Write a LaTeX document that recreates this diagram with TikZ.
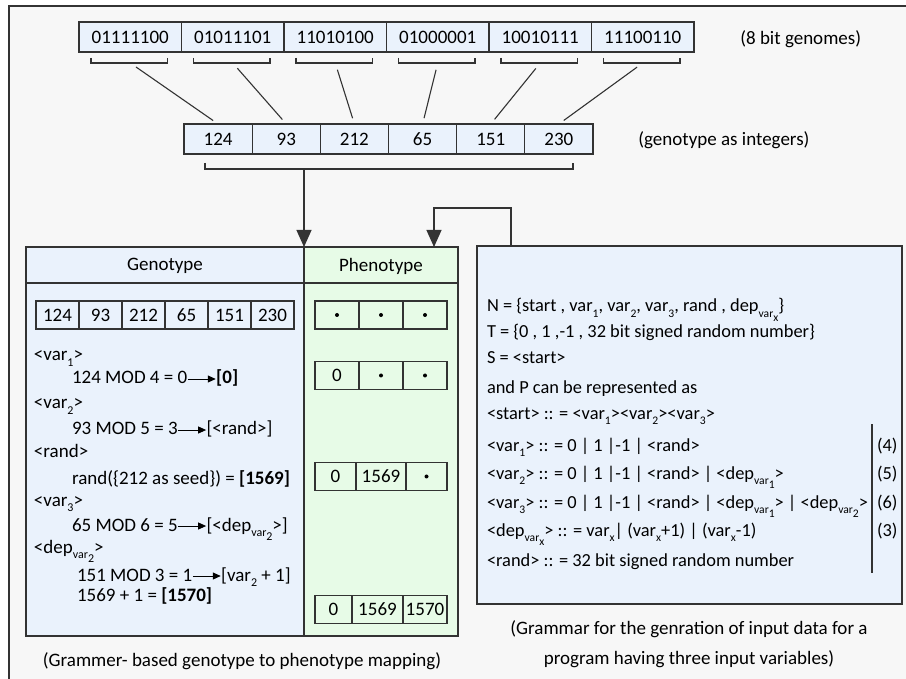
\documentclass[tikz,border=0pt]{standalone}
\usepackage{fontspec}
\usepackage{graphicx}
\setmainfont{Carlito}
\usetikzlibrary{positioning}
\usetikzlibrary{arrows.meta}

\definecolor{framegray}{HTML}{F7F7F7}
\definecolor{linegray}{HTML}{333333}
\definecolor{cellblue}{HTML}{EAF2FC}
\definecolor{phgreen}{HTML}{E7FBE7}

\newcommand{\lo}[1]{\raisebox{-0.6ex}{\scalebox{0.63}{#1}}}
\newcommand{\llo}[1]{\raisebox{-0.7ex}{#1}}
\newcommand{\maparrow}{\tikz[baseline=-0.55ex]\draw[line width=0.9pt,-{Triangle[length=8pt,width=7pt]}] (0pt,0pt) -- (28pt,0pt);}
\newcommand{\pdot}{\tikz\fill (0pt,0pt) circle (2pt);}

\begin{document}
\begin{tikzpicture}[x=1pt,y=-1pt,line width=1.1pt,draw=linegray,
    font=\fontsize{19}{23}\selectfont,
    every node/.style={outer sep=0pt},
    gcell/.style={draw=linegray, fill=cellblue, minimum width=102.5pt, minimum height=30pt, inner sep=0pt},
    icell/.style={draw=linegray, fill=cellblue, minimum width=68.2pt, minimum height=30pt, inner sep=0pt},
    scell/.style={draw=linegray, minimum width=43pt, minimum height=28pt, inner sep=0pt},
    panel/.style={draw=linegray, line width=1.4pt, inner sep=0pt},
    txt/.style={anchor=base west, inner sep=0pt},
    gtxt/.style={txt, font=\fontsize{18.4}{22}\selectfont},
    arr/.style={-{Triangle[length=17pt,width=15pt]}}]

            \useasboundingbox (0,0) rectangle (906,679);
            \clip (0,0) rectangle (906,679);
            \draw [fill=framegray, line width=2pt] (9,6) rectangle (930,700);

            %\draw [help lines] (0,0) grid[step=50] (906,679);

            % 8 bit genomes
            \path   (130.25,37) node (g1) [gcell] {01111100}
                    (232.75,37) node (g2) [gcell] {01011101}
                    (335.25,37) node (g3) [gcell] {11010100}
                    (437.75,37) node (g4) [gcell] {01000001}
                    (540.25,37) node (g5) [gcell] {10010111}
                    (642.75,37) node (g6) [gcell] {11100110};
            \node (glabel) [anchor=west] at (737,39) {(8 bit genomes)};

            % genotype as integers
            \path   (218.1,139) node (i1) [icell] {124}
                    (286.3,139) node (i2) [icell] {93}
                    (354.4,139) node (i3) [icell] {212}
                    (422.6,139) node (i4) [icell] {65}
                    (490.8,139) node (i5) [icell] {151}
                    (558.9,139) node (i6) [icell] {230};
            \node (ilabel) [anchor=west] at (635,140) {(genotype as integers)};

            \foreach \i in {1,...,6} {
                \draw ([xshift=12pt,yshift=-6pt]g\i.south west) -- ([xshift=12pt,yshift=-11pt]g\i.south west)
                    -- ([xshift=-14pt,yshift=-11pt]g\i.south east) -- ([xshift=-14pt,yshift=-6pt]g\i.south east);
                \draw [shorten <=7pt, shorten >=6pt] ([yshift=-11pt]g\i.south) -- (i\i.north);
            }
            \draw (205,163) |- (573,169) -- (573,163);
            \coordinate (ib) at (304,169);

            % panels
            \node (geno) [panel, fill=cellblue, minimum width=278pt, minimum height=389pt] at (165,441.5) {};
            \node (pheno) [panel, fill=phgreen, minimum width=154pt, minimum height=389pt] at (381,441.5) {};
            \node (gram) [panel, fill=cellblue, minimum width=425pt, minimum height=358pt] at (689.5,425) {};
            \draw ([yshift=-36pt]geno.north west) -- ([yshift=-36pt]pheno.north east);
            \node (genohead) at (165,266) {Genotype};
            \node (phenohead) at (381,266) {Phenotype};

            \draw [arr] (ib) -- (geno.north east);
            \draw [arr] ([xshift=34pt]gram.north west) |- ([xshift=-24pt,yshift=39pt]pheno.north east)
                -- ([xshift=-24pt]pheno.north east);

            % genotype row
            \path   (57.5,315) node (n1) [scell] {124}
                    (100.5,315) node (n2) [scell] {93}
                    (143.5,315) node (n3) [scell] {212}
                    (186.5,315) node (n4) [scell] {65}
                    (229.5,315) node (n5) [scell] {151}
                    (272.5,315) node (n6) [scell] {230};

            % mapping steps
            \node (s1) [txt] at (34,361) {<var\lo{1}>};
            \node (s2) [txt] at (72,384) {124 MOD 4 = 0\maparrow\textbf{[0]}};
            \node (s3) [txt] at (34,409) {<var\lo{2}>};
            \node (s4) [txt] at (72,435) {93 MOD 5 = 3\maparrow[<rand>]};
            \node (s5) [txt] at (34,457) {<rand>};
            \node (s6) [txt] at (72,484) {rand(\{212 as seed\}) = \textbf{[1569]}};
            \node (s7) [txt] at (34,506) {<var\lo{3}>};
            \node (s8) [txt] at (72,531) {65 MOD 6 = 5\maparrow[<dep\lo{var\llo{2}}>]};
            \node (s9) [txt] at (34,553) {<dep\lo{var\llo{2}}>};
            \node (s10) [txt] at (77,581) {151 MOD 3 = 1\maparrow[var\lo{2} + 1]};
            \node (s11) [txt] at (77,601) {1569 + 1 = \textbf{[1570]}};

            % phenotype rows
            \node (p11) [scell, minimum width=44pt] at (337,315) {\pdot};
            \node (p12) [scell, minimum width=44pt, right=0pt of p11] {\pdot};
            \node (p13) [scell, minimum width=44pt, right=0pt of p12] {\pdot};
            \node (p21) [scell, minimum width=44pt] at (337,375.5) {0};
            \node (p22) [scell, minimum width=44pt, right=0pt of p21] {\pdot};
            \node (p23) [scell, minimum width=44pt, right=0pt of p22] {\pdot};
            \node (p31) [scell, minimum width=41pt] at (335.5,476.5) {0};
            \node (p32) [scell, minimum width=50pt, right=0pt of p31] {1569};
            \node (p33) [scell, minimum width=41pt, right=0pt of p32] {\pdot};
            \node (p41) [scell, minimum width=37pt] at (333.5,609.5) {0};
            \node (p42) [scell, minimum width=51pt, right=0pt of p41] {1569};
            \node (p43) [scell, minimum width=44pt, right=0pt of p42] {1570};

            % grammar
            \node (r1) [gtxt] at (487,312) {N = \{start , var\lo{1}, var\lo{2}, var\lo{3}, rand , dep\lo{var\llo{x}}\}};
            \node (r2) [gtxt] at (487,338) {T = \{0 , 1 ,-1 , 32 bit signed random number\}};
            \node (r3) [gtxt] at (487,364) {S = <start>};
            \node (r4) [gtxt] at (487,393) {and P can be represented as};
            \node (r5) [gtxt] at (487,419) {<start> :: = <var\lo{1}><var\lo{2}><var\lo{3}>};
            \node (r6) [gtxt] at (487,451) {<var\lo{1}> :: = 0 | 1 |-1 | <rand>};
            \node (r7) [gtxt] at (487,479) {<var\lo{2}> :: = 0 | 1 |-1 | <rand> | <dep\lo{var\llo{1}}>};
            \node (r8) [gtxt] at (487,508) {<var\lo{3}> :: = 0 | 1 |-1 | <rand> | <dep\lo{var\llo{1}}> | <dep\lo{var\llo{2}}>};
            \node (r9) [gtxt] at (487,536) {<dep\lo{var\llo{x}}> :: = var\lo{x}| (var\lo{x}+1) | (var\lo{x}-1)};
            \node (r10) [gtxt] at (487,566) {<rand> :: = 32 bit signed random number};
            \draw (872,424) -- (872,573);
            \node (e4) [gtxt] at (877,451) {(4)};
            \node (e5) [gtxt] at (877,479) {(5)};
            \node (e6) [gtxt] at (877,508) {(6)};
            \node (e3) [gtxt] at (877,536) {(3)};

            % captions
            \node (capl) at (242,661) {(Grammer- based genotype to phenotype mapping)};
            \node (capr) [align=center, font=\fontsize{19}{30}\selectfont] at (689,644) {(Grammar for the genration of input data for a\\program having three input variables)};
        \end{tikzpicture}
\end{document}
